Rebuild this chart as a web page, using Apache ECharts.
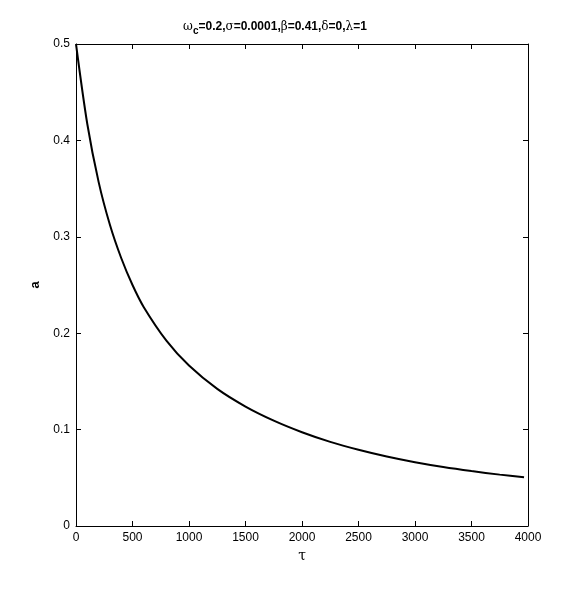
<!DOCTYPE html>
<html><head><meta charset="utf-8">
<script src="https://cdn.jsdelivr.net/npm/echarts@6/dist/echarts.min.js"></script>
<style>html,body{margin:0;padding:0;background:#fff}#c{width:582px;height:592px}</style>
</head><body><div id="c"></div>
<script>
const tau = [0, 100, 200, 300, 400, 500, 600, 800, 1000, 1250, 1500, 1750, 2000, 2250, 2500, 2750, 3000, 3250, 3500, 3750, 3965];
const aVals = [0.5, 0.417, 0.357, 0.3125, 0.278, 0.250, 0.227, 0.1923, 0.1664, 0.1422, 0.1239, 0.1093, 0.0973, 0.0873, 0.0791, 0.0721, 0.0662, 0.0612, 0.0570, 0.0533, 0.0505];
const xTicks = [0, 500, 1000, 1500, 2000, 2500, 3000, 3500, 4000];
const yTicks = [0, 0.1, 0.2, 0.3, 0.4, 0.5];

const font = 'Liberation Sans, Arial, sans-serif';
const chart = echarts.init(document.getElementById('c'), null, {renderer: 'canvas'});
const axLine = {show: true, onZero: false, lineStyle: {color: '#000', width: 1}};
const tick = {show: true, inside: true, length: 5, lineStyle: {color: '#000', width: 1}};
chart.setOption({
  animation: false,
  backgroundColor: '#fff',
  title: {
    text: '{g|ω}{s|c}{b|=0.2,}{g|σ}{b|=0.0001,}{g|β}{b|=0.41,}{g|δ}{b|=0,}{g|λ}{b|=1}',
    left: 270, top: 13, textAlign: 'center',
    textStyle: {
      rich: {
        b: {fontFamily: font, fontWeight: 'bold', fontSize: 12, color: '#000'},
        g: {fontFamily: 'DejaVu Serif, serif', fontWeight: 'normal', fontSize: 12, color: '#000'},
        s: {fontFamily: font, fontWeight: 'bold', fontSize: 10, color: '#000', verticalAlign: 'bottom', padding: [8, 0, 0, 0]}
      }
    }
  },
  grid: {left: 76, right: 54, top: 44, bottom: 66, containLabel: false},
  xAxis: [{
    type: 'value', min: 0, max: 4000, interval: 500, position: 'bottom',
    name: 'τ', nameLocation: 'middle', nameGap: 16,
    nameTextStyle: {fontFamily: 'DejaVu Serif, serif', fontSize: 14, color: '#000'},
    axisLine: axLine, axisTick: tick, splitLine: {show: false},
    axisLabel: {fontFamily: font, fontSize: 12, color: '#000', margin: 6,
      formatter: v => xTicks.includes(v) ? String(v) : ''}
  }, {
    type: 'value', min: 0, max: 4000, interval: 500, position: 'top',
    axisLine: axLine, axisTick: tick, splitLine: {show: false}, axisLabel: {show: false}
  }],
  yAxis: [{
    type: 'value', min: 0, max: 0.5, interval: 0.1, position: 'left',
    name: 'a', nameLocation: 'middle', nameGap: 26, nameRotate: 90,
    nameTextStyle: {fontFamily: font, fontSize: 13, fontWeight: 'bold', color: '#000'},
    axisLine: axLine, axisTick: tick, splitLine: {show: false},
    axisLabel: {fontFamily: font, fontSize: 12, color: '#000', margin: 6,
      formatter: v => { const t = yTicks.find(y => Math.abs(y - v) < 1e-9); return t === undefined ? '' : String(t); }}
  }, {
    type: 'value', min: 0, max: 0.5, interval: 0.1, position: 'right',
    axisLine: axLine, axisTick: tick, splitLine: {show: false}, axisLabel: {show: false}
  }],
  series: [{
    type: 'line', xAxisIndex: 0, yAxisIndex: 0,
    data: tau.map((t, i) => [t, aVals[i]]),
    smooth: 0.3, showSymbol: false, symbol: 'none',
    lineStyle: {color: '#000', width: 2}
  }]
});
</script></body></html>
